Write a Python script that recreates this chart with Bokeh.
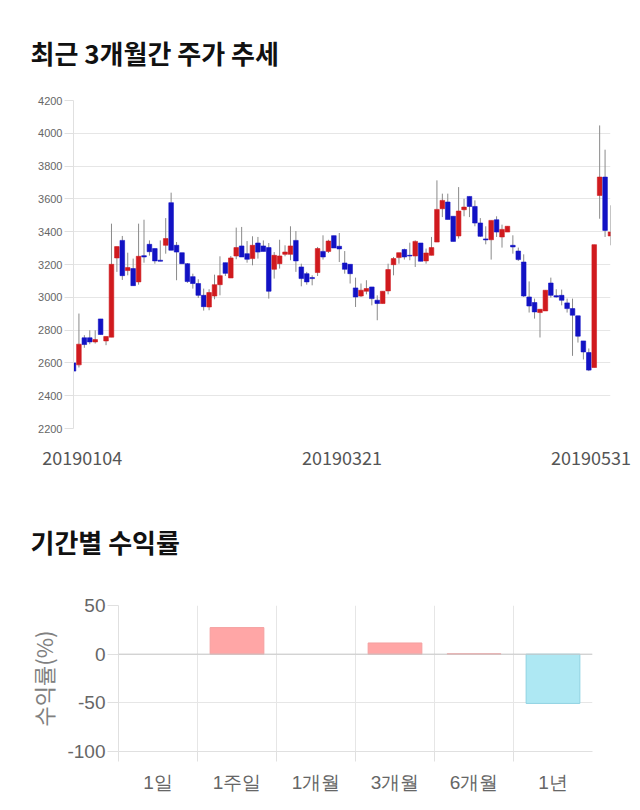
from bokeh.plotting import figure
from bokeh.models import Range1d, FixedTicker, ColumnDataSource, Title, Span
from bokeh.embed import file_html
from bokeh.resources import INLINE

# ---------------- data ----------------
date_labels = ["20190104", "20190321", "20190531"]
opens = [2600, 2588, 2753, 2753, 2728, 2868, 2734, 2757, 3240, 3347,
         3163, 3175, 3094, 3254, 3323, 3297, 3226, 3317, 3577, 3317,
         3272, 3205, 3126, 3084, 3012, 2941, 3008, 3077, 3211, 3118,
         3252, 3313, 3266, 3236, 3331, 3313, 3303, 3171, 3205, 3262,
         3262, 3347, 3185, 3144, 3120, 3151, 3280, 3280, 3376, 3311,
         3209, 3201, 3057, 3008, 3037, 3063, 2982, 2962, 3039, 3199,
         3242, 3291, 3256, 3252, 3331, 3222, 3256, 3337, 3540, 3581,
         3494, 3374, 3534, 3615, 3554, 3453, 3356, 3351, 3473, 3368,
         3398, 3317, 3282, 3215, 3002, 2968, 2907, 2917, 3087, 3010,
         3012, 2966, 2931, 2887, 2734, 2663, 2572, 3621, 3733, 3374]
highs = [2600, 2901, 2769, 2799, 2799, 2868, 2761, 3449, 3309, 3374,
         3272, 3236, 3449, 3473, 3347, 3297, 3347, 3483, 3638, 3337,
         3272, 3209, 3144, 3110, 3053, 3049, 3138, 3250, 3211, 3252,
         3425, 3429, 3343, 3372, 3368, 3347, 3331, 3276, 3351, 3317,
         3433, 3404, 3205, 3155, 3134, 3307, 3378, 3351, 3376, 3392,
         3282, 3201, 3120, 3084, 3104, 3063, 3012, 3037, 3205, 3246,
         3272, 3297, 3333, 3347, 3331, 3297, 3368, 3713, 3632, 3632,
         3494, 3672, 3601, 3615, 3591, 3483, 3433, 3469, 3494, 3443,
         3433, 3378, 3303, 3262, 3097, 2992, 2927, 3043, 3120, 3049,
         3047, 2992, 2992, 2887, 2734, 2688, 3321, 4048, 3900, 3561]
lows = [2400, 2572, 2692, 2714, 2718, 2773, 2708, 2757, 3155, 3106,
        3134, 3071, 3077, 3211, 3254, 3205, 3220, 3266, 3287, 3104,
        3205, 3088, 3053, 2996, 2919, 2921, 2988, 3012, 3130, 3118,
        3232, 3246, 3211, 3195, 3236, 3280, 2992, 3114, 3175, 3250,
        3226, 3155, 3067, 3077, 3073, 3130, 3230, 3270, 3301, 3215,
        3144, 3084, 2941, 3002, 3018, 2951, 2860, 2962, 3018, 3134,
        3205, 3230, 3226, 3185, 3220, 3205, 3256, 3337, 3489, 3475,
        3341, 3358, 3494, 3489, 3433, 3368, 3323, 3230, 3368, 3303,
        3398, 3266, 3222, 3002, 2907, 2870, 2755, 2917, 2998, 2998,
        2951, 2907, 2643, 2724, 2621, 2550, 2572, 3479, 3368, 3317]
closes = [2550, 2714, 2712, 2728, 2742, 2773, 2761, 3201, 3309, 3132,
          3181, 3071, 3250, 3246, 3278, 3222, 3220, 3358, 3287, 3276,
          3205, 3096, 3084, 3012, 2943, 3029, 3077, 3132, 3146, 3240,
          3303, 3246, 3232, 3317, 3276, 3280, 3037, 3256, 3252, 3276,
          3313, 3222, 3114, 3094, 3114, 3297, 3246, 3343, 3301, 3295,
          3171, 3144, 3002, 3043, 3053, 2992, 2962, 3037, 3169, 3236,
          3272, 3246, 3252, 3341, 3220, 3270, 3303, 3536, 3591, 3475,
          3341, 3526, 3550, 3554, 3453, 3372, 3350, 3469, 3398, 3414,
          3433, 3307, 3230, 3008, 2947, 2911, 2927, 3043, 3012, 3002,
          2982, 2931, 2891, 2763, 2667, 2556, 3321, 3733, 3408, 3398]

periods = ["1일", "1주일", "1개월", "3개월", "6개월", "1년"]
returns = [0.0, 27.3, 0.0, 11.5, 0.4, -50.6]

# ---------------- styles ----------------
UP = "#d01a1e"
DOWN = "#1212c4"
GRID = "#e6e6e6"
KFONT = "Noto Sans CJK KR"
NFONT = "Liberation Sans"

# ---------------- candlestick chart ----------------
n = len(opens)
xs = list(range(n))
src = ColumnDataSource(dict(
    x=xs, o=opens, h=highs, l=lows, c=closes,
    top=[max(a, b) for a, b in zip(opens, closes)],
    bot=[min(a, b) for a, b in zip(opens, closes)],
    col=[UP if c >= o else DOWN for o, c in zip(opens, closes)],
))

p1 = figure(width=640, height=472, output_backend="svg", toolbar_location=None,
            x_range=Range1d(0, n - 1), y_range=Range1d(2200, 4200),
            min_border_left=73, min_border_right=30, min_border_top=100,
            min_border_bottom=44)
p1.title = Title(text="최근 3개월간 주가 추세", align="left", offset=-43,
                 text_font=KFONT, text_font_size="26px", text_font_style="bold",
                 text_color="#111111", standoff=60)
p1.outline_line_color = None
p1.background_fill_color = "white"
p1.border_fill_color = "white"

p1.segment(x0="x", y0="h", x1="x", y1="l", source=src, line_color="#8a8a8a", line_width=1)
p1.vbar(x="x", width=0.85, top="top", bottom="bot", source=src,
        fill_color="col", line_color="col", line_width=0.6)

p1.yaxis.ticker = FixedTicker(ticks=list(range(2200, 4201, 200)))
p1.yaxis.major_label_text_font = NFONT
p1.yaxis.major_label_text_font_size = "11px"
p1.yaxis.major_label_text_color = "#666666"
p1.yaxis.axis_line_color = "#e0e0e0"
p1.yaxis.major_tick_line_color = "#e0e0e0"
p1.yaxis.major_tick_out = 9
p1.yaxis.major_tick_in = 0
p1.yaxis.minor_tick_line_color = None
p1.yaxis.major_label_standoff = 2

date_tick_pos = [1.6, 49.5, 95.4]
p1.xaxis.ticker = FixedTicker(ticks=date_tick_pos)
p1.xaxis.major_label_overrides = {t: lab for t, lab in zip(date_tick_pos, date_labels)}
p1.xaxis.major_label_text_font = KFONT
p1.xaxis.major_label_text_font_size = "18px"
p1.xaxis.major_label_text_color = "#555555"
p1.xaxis.axis_line_color = None
p1.xaxis.major_tick_line_color = None
p1.xaxis.minor_tick_line_color = None
p1.xaxis.major_label_standoff = 16

p1.xgrid.grid_line_color = None
p1.ygrid.grid_line_color = GRID
p1.ygrid.ticker = FixedTicker(ticks=list(range(2200, 4201, 200)))

# ---------------- returns bar chart ----------------
bsrc = ColumnDataSource(dict(
    x=[i + 0.5 for i in range(len(periods))],
    top=[max(v, 0) for v in returns],
    bot=[min(v, 0) for v in returns],
    fill=["#ffa6a6" if v >= 0 else "#aee8f3" for v in returns],
    line=["#f4a0a0" if v >= 0 else "#8fd2e2" for v in returns],
    la=[0.0 if v == 0 else 1.0 for v in returns],
))

p2 = figure(width=640, height=338, output_backend="svg", toolbar_location=None,
            x_range=Range1d(0, len(periods)), y_range=Range1d(-100, 50),
            min_border_left=118, min_border_right=48, min_border_top=133,
            min_border_bottom=59)
p2.title = Title(text="기간별 수익률", align="left", offset=-88,
                 text_font=KFONT, text_font_size="26px", text_font_style="bold",
                 text_color="#111111", standoff=92)
p2.outline_line_color = None

p2.add_layout(Span(location=0, dimension="width", line_color="#c8c8c8", line_width=1))
p2.vbar(x="x", width=0.68, top="top", bottom="bot", source=bsrc,
        fill_color="fill", line_color="line", line_alpha="la", fill_alpha="la", line_width=1)

ret_ticks = [-100, -50, 0, 50]
p2.yaxis.ticker = FixedTicker(ticks=ret_ticks)
p2.yaxis.major_label_overrides = {t: str(t) for t in ret_ticks}
p2.yaxis.major_label_text_font = NFONT
p2.yaxis.major_label_text_font_size = "19px"
p2.yaxis.major_label_text_color = "#666666"
p2.yaxis.axis_line_color = "#e0e0e0"
p2.yaxis.major_tick_line_color = "#e0e0e0"
p2.yaxis.major_tick_out = 11
p2.yaxis.major_tick_in = 0
p2.yaxis.major_label_standoff = 2
p2.yaxis.axis_label = "수익률(%)"
p2.yaxis.axis_label_text_font = KFONT
p2.yaxis.axis_label_text_font_size = "22px"
p2.yaxis.axis_label_text_font_style = "normal"
p2.yaxis.axis_label_text_color = "#808080"
p2.yaxis.axis_label_standoff = 5

cat_centers = [i + 0.5 for i in range(len(periods))]
p2.xaxis.ticker = FixedTicker(ticks=cat_centers, minor_ticks=list(range(len(periods))))
p2.xaxis.major_label_overrides = {t: lab for t, lab in zip(cat_centers, periods)}
p2.xaxis.major_label_text_font = NFONT
p2.xaxis.major_label_text_font_size = "19px"
p2.xaxis.major_label_text_color = "#666666"
p2.xaxis.axis_line_color = "#e0e0e0"
p2.xaxis.major_tick_line_color = None
p2.xaxis.minor_tick_line_color = "#e0e0e0"
p2.xaxis.minor_tick_out = 10
p2.xaxis.minor_tick_in = 0
p2.xaxis.major_label_standoff = 10

p2.xgrid.ticker = FixedTicker(ticks=list(range(len(periods))))
p2.xgrid.grid_line_color = GRID
p2.ygrid.ticker = FixedTicker(ticks=ret_ticks)
p2.ygrid.grid_line_color = GRID

open("out.html", "w").write(file_html([p1, p2], INLINE))
